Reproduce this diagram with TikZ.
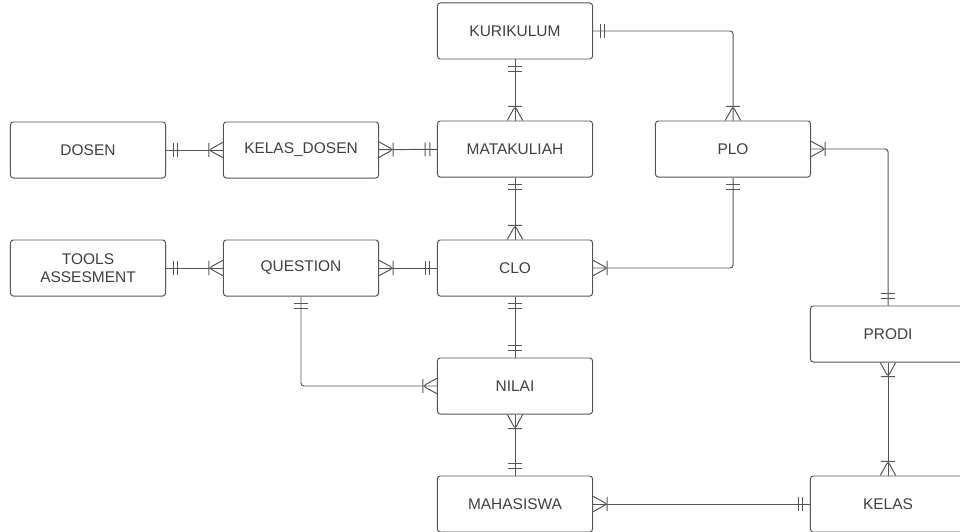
\documentclass[tikz,border=0pt]{standalone}
\usepackage{fontspec}
\setmainfont{Liberation Sans}
\usetikzlibrary{decorations.markings}

\definecolor{linegrey}{HTML}{555555}
\definecolor{textgrey}{HTML}{3F3F3F}

\tikzset{
    entity/.style={draw=linegrey, line width=0.7pt, rounded corners=2pt,
        minimum width=3.875cm, minimum height=1.4cm, align=center,
        text=textgrey, font=\fontsize{11}{13}\selectfont},
    rel/.style={draw=linegrey, line width=0.7pt, rounded corners=2pt},
    tick/.style={draw=linegrey, line width=0.7pt},
    one start/.style={postaction={decorate, decoration={markings,
        mark=at position 5pt with {\draw[tick] (0,-5pt) -- (0,5pt);},
        mark=at position 8.5pt with {\draw[tick] (0,-5pt) -- (0,5pt);}}}},
    one end/.style={postaction={decorate, decoration={markings,
        mark=at position -5pt with {\draw[tick] (0,-5pt) -- (0,5pt);},
        mark=at position -8.5pt with {\draw[tick] (0,-5pt) -- (0,5pt);}}}},
    many start/.style={postaction={decorate, decoration={markings,
        mark=at position 10pt with {\draw[tick] (-10pt,-5.5pt) -- (0,0) -- (-10pt,5.5pt)
            (0,-5pt) -- (0,5pt);}}}},
    many end/.style={postaction={decorate, decoration={markings,
        mark=at position -10pt with {\draw[tick] (10pt,-5.5pt) -- (0,0) -- (10pt,5.5pt)
            (0,-5pt) -- (0,5pt);}}}}
}

\begin{document}
\begin{tikzpicture}[x=0.025cm, y=-0.025cm]
                \useasboundingbox (0,0) rectangle (960,532);

                % entities
                \node[entity] (kurikulum) at (515,31) {KURIKULUM};
                \node[entity] (matakuliah) at (515,149) {MATAKULIAH};
                \node[entity] (plo) at (733,149) {PLO};
                \node[entity] (dosen) at (88,150) {DOSEN};
                \node[entity] (kelasdosen) at (301,150) {KELAS\_DOSEN};
                \node[entity] (tools) at (88,268) {TOOLS\\ASSESMENT};
                \node[entity] (question) at (301,268) {QUESTION};
                \node[entity] (clo) at (515,268) {CLO};
                \node[entity] (nilai) at (515,386) {NILAI};
                \node[entity] (prodi) at (888,334) {PRODI};
                \node[entity] (mahasiswa) at (515,504) {MAHASISWA};
                \node[entity] (kelas) at (888,504) {KELAS};

                % relations
                \draw[rel, one start, many end] (kurikulum) -- (matakuliah);
                \draw[rel, one start, many end] (kurikulum.east) -| (plo);
                \draw[rel, one start, many end] (dosen) -- (kelasdosen);
                \draw[rel, many start, one end] (kelasdosen) -- (matakuliah);
                \draw[rel, one start, many end] (matakuliah) -- (clo);
                \draw[rel, one start, many end] (plo) |- (clo);
                \draw[rel, many start, one end] (plo.east) -| (prodi);
                \draw[rel, one start, many end] (tools) -- (question);
                \draw[rel, many start, one end] (question) -- (clo);
                \draw[rel, one start, many end] (question) |- (nilai);
                \draw[rel, one start, one end] (clo) -- (nilai);
                \draw[rel, many start, one end] (nilai) -- (mahasiswa);
                \draw[rel, many start, one end] (mahasiswa) -- (kelas);
                \draw[rel, many start, many end] (prodi) -- (kelas);
            \end{tikzpicture}
\end{document}
